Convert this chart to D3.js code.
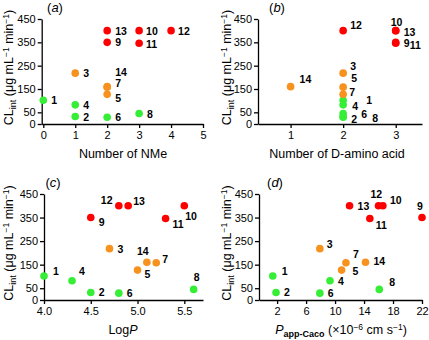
<!DOCTYPE html>
<html>
<head>
<meta charset="utf-8">
<script src="https://cdn.jsdelivr.net/npm/d3@7"></script>
<style>
  body { margin: 0; background: #fff; }
  svg { display: block; font-family: "Liberation Sans", Arial, sans-serif; }
  .axis path, .axis line { stroke: #000; stroke-width: 1.3; }
  .axis text { font-size: 11px; fill: #000; }
</style>
</head>
<body>
<div id="chart"></div>
<script>
// compound ids and the four measured properties
const compounds = ["1", "2", "3", "4", "5", "6", "7", "8", "9", "10", "11", "12", "13", "14"];
const clint = [102, 32, 218, 82, 127, 29, 158, 45, 350, 400, 346, 400, 400, 160];
const nMe = [0, 1, 1, 1, 2, 2, 2, 3, 2, 3, 3, 4, 2, 2];
const dAmino = [2, 2, 2, 2, 2, 2, 2, 2, 3, 3, 3, 2, 3, 1];
const logP = [4.0, 4.5, 4.7, 4.3, 5.0, 4.8, 5.2, 5.6, 4.5, 5.5, 5.3, 4.8, 4.9, 5.1];
const papp = [1.4, 1.85, 7.9, 9.3, 10.9, 7.9, 11.5, 16.1, 22.0, 16.6, 14.8, 16.0, 12.0, 14.2];
const group = ["low", "low", "mid", "low", "mid", "low", "mid", "low",
               "high", "high", "high", "high", "high", "mid"];

const yTicks = [0, 50, 150, 250, 350, 450];
const xTicksA = [0, 1, 2, 3, 4, 5];
const xTicksB = [1, 2, 3];
const xTicksC = [4.0, 4.5, 5.0, 5.5];
const xTicksD = [2, 6, 10, 14, 18, 22];

const colors = { low: "#35ee35", mid: "#f7921e", high: "#ff0000" };

const svg = d3.select("#chart").append("svg")
    .attr("width", 429)
    .attr("height", 340);

// label placement tweaks [dx from point to text start, dy of text centre]
const offsA = { "5": [8, 4], "7": [8, -4], "14": [8, -15], "10": [7, 0], "11": [7, 1], "12": [7, 0] };
const offsB = {
    "12": [7, -6], "10": [-5, -9], "13": [8, 1], "9": [8, 1], "11": [14, 2],
    "3": [7, -7], "5": [8, -16], "7": [6, 5], "14": [9, -8], "4": [9, 1],
    "1": [23, 0], "2": [8, 2], "6": [18, -3], "8": [29, 4]
};
const offsC = {
    "1": [9, -5], "4": [7, -10], "8": [0, -12], "9": [8, 4], "12": [-18, -6],
    "13": [5, -5], "10": [1, 10], "11": [7, 6], "5": [7, 4], "14": [-10, -11], "7": [6, -4]
};
const offsD = {
    "12": [-8, -12], "10": [7, -6], "11": [6, 7], "9": [-5, -12], "3": [7, -5],
    "7": [7, -9], "5": [11, 1], "14": [8, -1], "1": [9, -5], "8": [10, -7]
};

const panels = [
    { tag: "a", xs: nMe, domain: [-0.05, 5], xr: [41.7, 203], yr: [124, 19], ticks: xTicksA, fmt: d3.format("d"), offs: offsA },
    { tag: "b", xs: dAmino, domain: [0.38, 3.5], xr: [258, 422], yr: [124, 19], ticks: xTicksB, fmt: d3.format("d"), offs: offsB },
    { tag: "c", xs: logP, domain: [4.0, 5.7], xr: [44, 203], yr: [300, 194], ticks: xTicksC, fmt: d3.format(".1f"), offs: offsC },
    { tag: "d", xs: papp, domain: [-0.5, 22], xr: [259, 422], yr: [300, 194], ticks: xTicksD, fmt: d3.format("d"), offs: offsD }
];

panels.forEach(p => {
    const x = d3.scaleLinear().domain(p.domain).range(p.xr);
    const y = d3.scaleLinear().domain([0, 450]).range(p.yr);
    const g = svg.append("g");

    g.append("g")
        .attr("class", "axis")
        .attr("transform", `translate(0,${p.yr[0]})`)
        .call(d3.axisBottom(x).tickValues(p.ticks).tickFormat(p.fmt).tickSize(4).tickSizeOuter(0).tickPadding(3));

    g.append("g")
        .attr("class", "axis")
        .attr("transform", `translate(${p.xr[0]},0)`)
        .call(d3.axisLeft(y).tickValues(yTicks).tickSize(4).tickSizeOuter(0).tickPadding(2));

    const pts = compounds.map((c, i) => ({ id: c, xv: p.xs[i], yv: clint[i], grp: group[i] }));

    g.selectAll("circle")
        .data(pts)
        .enter()
        .append("circle")
        .attr("cx", d => x(d.xv))
        .attr("cy", d => y(d.yv))
        .attr("r", 3.8)
        .style("fill", d => colors[d.grp]);

    g.selectAll("text.lbl")
        .data(pts)
        .enter()
        .append("text")
        .attr("class", "lbl")
        .attr("x", d => x(d.xv) + (p.offs[d.id] || [8, 0])[0])
        .attr("y", d => y(d.yv) + (p.offs[d.id] || [8, 0])[1] + 4)
        .style("font-size", "10.5px")
        .style("font-weight", "bold")
        .text(d => d.id);

    // panel tag like (a)
    const tagX = p.tag === "a" ? 55 : p.tag === "b" ? 277 : p.tag === "c" ? 53 : 275;
    const tag = g.append("text")
        .attr("x", tagX)
        .attr("y", p.yr[1] - 7)
        .attr("text-anchor", "middle")
        .style("font-size", "13px");
    tag.append("tspan").text("(");
    tag.append("tspan").style("font-style", "italic").text(p.tag);
    tag.append("tspan").text(")");

    // y title
    const yl = g.append("text")
        .attr("transform", `translate(${p.xr[0] < 100 ? 13 : 231},${(p.yr[0] + p.yr[1]) / 2 - 4}) rotate(-90)`)
        .attr("text-anchor", "middle")
        .style("font-size", "12.5px");
    yl.append("tspan").text("CL");
    yl.append("tspan").attr("dy", 3).style("font-size", "9px").text("int");
    yl.append("tspan").attr("dy", -3).text(" (μg mL");
    yl.append("tspan").attr("dy", -4).style("font-size", "8.5px").text("−1");
    yl.append("tspan").attr("dy", 4).text(" min");
    yl.append("tspan").attr("dy", -4).style("font-size", "8.5px").text("−1");
    yl.append("tspan").attr("dy", 4).text(")");

    // x title
    const xl = g.append("text")
        .attr("x", p.tag === "a" ? 123 : p.tag === "b" ? 337 : p.tag === "c" ? 123 : 341)
        .attr("y", p.yr[0] + 34)
        .attr("text-anchor", "middle")
        .style("font-size", "12.5px");
    if (p.tag === "a") xl.text("Number of NMe");
    if (p.tag === "b") xl.text("Number of D-amino acid");
    if (p.tag === "c") {
        xl.append("tspan").text("Log");
        xl.append("tspan").style("font-style", "italic").text("P");
    }
    if (p.tag === "d") {
        xl.append("tspan").style("font-style", "italic").text("P");
        xl.append("tspan").attr("dy", 3).style("font-size", "9px").style("font-weight", "bold").text("app-Caco");
        xl.append("tspan").attr("dy", -3).text(" (×10");
        xl.append("tspan").attr("dy", -4).style("font-size", "8.5px").text("−6");
        xl.append("tspan").attr("dy", 4).text(" cm s");
        xl.append("tspan").attr("dy", -4).style("font-size", "8.5px").text("−1");
        xl.append("tspan").attr("dy", 4).text(")");
    }
});
</script>
</body>
</html>
